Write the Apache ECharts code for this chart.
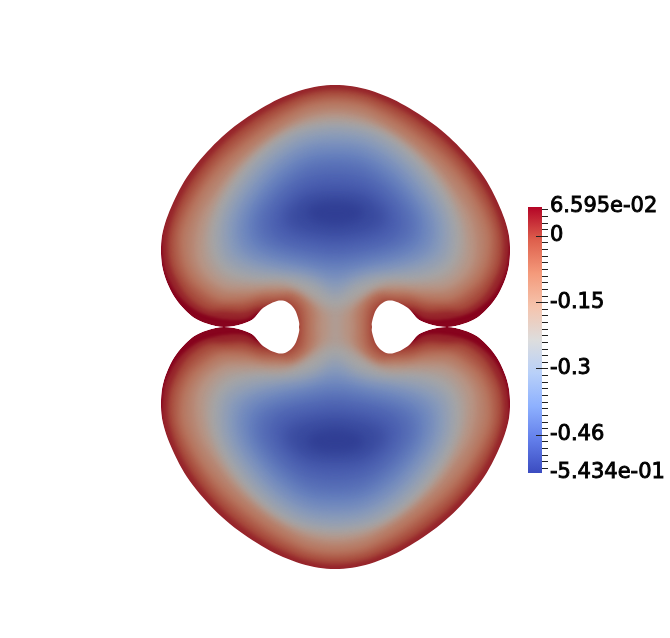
<!DOCTYPE html>
<html>
<head>
<meta charset="utf-8">
<style>html,body{margin:0;padding:0;background:#fff}#main{width:670px;height:638px}</style>
<script src="https://cdn.jsdelivr.net/npm/echarts@6/dist/echarts.min.js"></script>
</head>
<body>
<div id="main"></div>
<script>
// field values of the contours (outer edge first)
var levels = [0.066, 0.029, -0.010, -0.050, -0.086, -0.123, -0.163, -0.202, -0.239, -0.275, -0.315, -0.354, -0.391, -0.428, -0.467, -0.507, -0.531];
// upper-left quarter of each contour, in image units. the shape is mirrored around the axes
var contours = [
    [[335,85],[310,88],[283,97],[257,111],[230,130],[207,152],[187,177],[173,203],[164,227],[161,247],[163,270],[172,293],[185,310],[200,321],[224,327],[250,321],[263,308],[277,301],[287,302],[295,310],[299,322],[299,327]],
    [[335,82],[310,85],[283,94],[256,108],[229,127],[205,150],[185,175],[171,202],[163,227],[162,247],[165,270],[175,291],[188,305],[203,314],[224,319],[245,319],[258,312],[277,303],[288,304],[295,312],[298,322],[297,327]],
    [[335,90],[310,93],[285,102],[259,116],[233,135],[211,156],[192,180],[178,205],[170,228],[168,247],[171,267],[181,288],[192,301],[207,310],[224,311],[243,312],[256,308],[277,304],[287,305],[293,312],[296,322],[296,327]],
    [[335,95],[310,98],[287,107],[262,121],[236,140],[215,160],[197,183],[183,207],[175,229],[173,247],[176,266],[186,284],[198,297],[212,305],[226,306],[244,306],[259,302],[277,300],[288,300],[298,309],[301,320],[301,327]],
    [[335,100],[311,103],[289,112],[265,126],[240,145],[219,164],[202,186],[188,209],[180,230],[179,247],[182,264],[190,280],[203,292],[216,300],[229,302],[245,301],[260,297],[277,296],[291,296],[303,305],[306,317],[306,327]],
    [[335,105],[311,108],[291,117],[268,131],[244,149],[224,168],[206,189],[194,211],[186,232],[185,248],[188,263],[196,277],[207,288],[220,296],[232,297],[247,296],[262,292],[278,291.5],[293,291],[306,301],[312,315],[312,327]],
    [[335,112],[312,115],[293,123],[271,137],[249,154],[230,172],[214,193],[201,214],[195,234],[194,249],[196,262],[203,275],[213,284],[225,290],[236,291],[250,291],[265,289],[280,288.5],[296,288],[310,298],[318,313],[318,327]],
    [[335,117],[313,120],[296,128],[274,141],[254,158],[236,177],[220,197],[209,217],[204,235],[203,250],[205,262],[212,273],[221,281],[231,285],[242,285],[255,285],[270,284],[285,285],[300,290],[316,302],[328,316],[329,327]],
    [[335,122],[314,124],[292,130],[270,143],[250,160],[233,180],[221,200],[213,220],[210,237],[211,251],[215,262],[222,271],[232,277],[245,280],[260,281],[283,281],[300,288],[316,298],[335,308]],
    [[335,127],[314,129],[294,135],[274,147],[255,164],[240,183],[227,203],[220,222],[218,238],[219,250],[223,260],[232,268],[244,273],[260,276],[283,276],[300,280],[318,287],[335,298]],
    [[335,133],[315,135],[297,141],[278,153],[261,168],[246,186],[234,205],[227,222],[226,238],[228,250],[234,258],[246,264],[262,268],[283,271],[300,273],[318,279],[335,290]],
    [[335,141],[316,143],[300,148],[283,158],[267,172],[253,189],[241,207],[235,224],[235,238],[238,249],[246,256],[259,262],[283,267],[300,269],[318,274],[335,281]],
    [[335,150],[317,151],[303,156],[288,165],[273,178],[260,194],[249,211],[244,225],[244,238],[250,247],[262,254],[283,260],[300,263],[318,268],[335,272]],
    [[335,159],[319,160],[306,164],[293,172],[279,184],[266,198],[256,213],[253,226],[256,238],[265,246],[283,252],[300,256],[318,260],[335,262]],
    [[335,173],[321,174],[309,177],[297,184],[285,194],[275,206],[268,218],[268,229],[276,238],[290,244],[310,248],[322,250],[335,252]],
    [[335,190],[323,191],[311,193],[300,198],[291,206],[285,215],[287,224],[297,231],[312,235],[323,237],[335,238]],
    [[335,202],[327,202],[318,204],[311,207],[307,212],[310,218],[318,222],[327,224],[335,225]]
];
var ringBlur = [0, 3, 5, 6, 6, 7, 7, 8, 9, 10, 11, 12, 13, 14, 16, 14, 10];

// colour bar
var barMin = -0.5434;
var barMax = 0.06595;
var majorTicks = [0.06595, 0, -0.152, -0.304, -0.456, -0.5434];
var majorLabels = ['6.595e-02', '0', '-0.15', '-0.3', '-0.46', '-5.434e-01'];
var longTicks = [0, -0.152, -0.304, -0.456];
var shortTicks = [0.0608, 0.0456, 0.0304, 0.0152, -0.0152, -0.0304, -0.0456, -0.0608, -0.076, -0.0912, -0.1064, -0.1216, -0.1368,
    -0.1672, -0.1824, -0.1976, -0.2128, -0.228, -0.2432, -0.2584, -0.2736, -0.2888,
    -0.3192, -0.3344, -0.3496, -0.3648, -0.38, -0.3952, -0.4104, -0.4256, -0.4408,
    -0.4712, -0.4864, -0.5016, -0.5168, -0.532];
var coolWarm = ['#b40426', '#de604d', '#f49a7b', '#f5c4ad', '#dddddd', '#b8d0f9', '#8db0fe', '#627eea', '#3b4cc0'];
// same ramp from low to high, dimmed by the surface lighting
var litCoolWarm = ['#2c3990', '#4a5eb0', '#6a84bf', '#8a9cbb', '#a6a6a6', '#b89382', '#b7735c', '#a6483a', '#87031d'];

var cx = 335.5, cy = 327;
var OFFSCREEN = 3000;

function dedupe(points) {
    var out = [];
    points.forEach(function (p) {
        var last = out[out.length - 1];
        if (!last || Math.abs(last[0] - p[0]) > 1.5 || Math.abs(last[1] - p[1]) > 1.5) out.push(p);
    });
    var a = out[0], b = out[out.length - 1];
    if (Math.abs(a[0] - b[0]) <= 1.5 && Math.abs(a[1] - b[1]) <= 1.5) out.pop();
    return out;
}
function flipX(p) { return [2 * cx - p[0], p[1]]; }
function flipY(p) { return [p[0], 2 * cy - p[1]]; }
function ringPaths(q) {
    var rev = q.slice().reverse();
    if (q[q.length - 1][1] === cy) {
        // contour runs round both lobes through the neck
        return [dedupe(q.concat(rev.map(flipY), q.map(flipY).map(flipX), rev.map(flipX)))];
    }
    var upper = dedupe(q.concat(rev.map(flipX)));
    return [upper, upper.map(flipY)];
}
// round the corners of a closed contour, only for drawing
function curve(path) {
    var out = [], n = path.length, steps = 6;
    for (var i = 0; i < n; i++) {
        var p0 = path[(i - 1 + n) % n], p1 = path[i], p2 = path[(i + 1) % n], p3 = path[(i + 2) % n];
        for (var s = 0; s < steps; s++) {
            var t = s / steps, t2 = t * t, t3 = t2 * t;
            out.push([0, 1].map(function (k) {
                return 0.5 * (2 * p1[k] + (p2[k] - p0[k]) * t + (2 * p0[k] - 5 * p1[k] + 4 * p2[k] - p3[k]) * t2 + (3 * p1[k] - p0[k] - 3 * p2[k] + p3[k]) * t3);
            }));
        }
    }
    return out;
}

function renderRing(params, api) {
    var i = api.value(0);
    var color = api.visual('color');
    return {
        type: 'group',
        children: ringPaths(contours[i]).map(function (path) {
            var pts = curve(path).map(function (p) { return api.coord(p); });
            if (ringBlur[i] === 0) {
                return { type: 'polygon', shape: { points: pts }, style: { fill: color } };
            }
            // only the blurred shadow lands on the page, the shape itself sits off to the side
            return {
                type: 'polygon',
                x: -OFFSCREEN,
                shape: { points: pts },
                style: {
                    fill: color,
                    shadowBlur: ringBlur[i],
                    shadowColor: color,
                    shadowOffsetX: OFFSCREEN
                }
            };
        })
    };
}
// white sheet with the outline cut out, keeps the outer edge sharp
function renderMask(params, api) {
    var outline = curve(ringPaths(contours[0])[0]);
    var frame = [[cx, 70], [525, 70], [525, 585], [140, 585], [140, 70], [cx, 70]];
    var pts = frame.concat(outline, [outline[0]]).map(function (p) { return api.coord(p); });
    return { type: 'polygon', shape: { points: pts }, style: { fill: '#fff' } };
}
function renderBar(params, api) {
    var a = api.coord([0, barMax]);
    var b = api.coord([14, barMin]);
    return {
        type: 'rect',
        shape: { x: a[0], y: a[1], width: b[0] - a[0], height: b[1] - a[1] },
        style: {
            fill: new echarts.graphic.LinearGradient(0, 0, 0, 1, coolWarm.map(function (c, i) {
                return { offset: i / (coolWarm.length - 1), color: c };
            }))
        }
    };
}
function renderTick(params, api) {
    var a = api.coord([api.value(0), api.value(1)]);
    var b = api.coord([20, api.value(1)]);
    var y = Math.round(a[1]) + 0.5;
    return {
        type: 'line',
        shape: { x1: a[0], y1: y, x2: b[0], y2: y },
        style: { stroke: '#222', lineWidth: 1 }
    };
}

var chart = echarts.init(document.getElementById('main'), null, { renderer: 'canvas' });

chart.setOption({
    animation: false,
    backgroundColor: '#ffffff',
    grid: [
        { left: 0, right: 0, top: 0, bottom: 0 },
        { left: 528, width: 20, top: 207, height: 266 }
    ],
    xAxis: [
        { type: 'value', gridIndex: 0, min: 0, max: 670, show: false },
        { type: 'value', gridIndex: 1, min: 0, max: 20, show: false }
    ],
    yAxis: [
        { type: 'value', gridIndex: 0, min: 0, max: 638, inverse: true, show: false },
        {
            type: 'value', gridIndex: 1, min: barMin, max: barMax, position: 'right',
            axisLine: { show: false },
            axisTick: { show: false },
            splitLine: { show: false },
            axisLabel: {
                show: true, margin: 2,
                customValues: majorTicks,
                formatter: function (v) { return majorLabels[majorTicks.indexOf(v)]; },
                fontFamily: 'DejaVu Sans', fontSize: 21, color: '#000',
                textBorderColor: '#000', textBorderWidth: 0.9
            }
        }
    ],
    visualMap: [
        {
            type: 'continuous', show: false, seriesIndex: 0, dimension: 1,
            min: barMin, max: barMax,
            inRange: { color: litCoolWarm }
        }
    ],
    series: [
        {
            type: 'custom', xAxisIndex: 0, yAxisIndex: 0,
            clip: false, silent: true,
            renderItem: renderRing,
            encode: { x: 0, y: 1 },
            data: levels.map(function (v, i) { return [i, v]; })
        },
        {
            type: 'custom', xAxisIndex: 0, yAxisIndex: 0,
            clip: false, silent: true,
            renderItem: renderMask,
            data: [[0, 0]]
        },
        {
            type: 'custom', xAxisIndex: 1, yAxisIndex: 1,
            clip: false, silent: true,
            renderItem: renderBar,
            data: [[0, barMax]]
        },
        {
            type: 'custom', xAxisIndex: 1, yAxisIndex: 1,
            clip: false, silent: true,
            renderItem: renderTick,
            encode: { x: 0, y: 1 },
            data: longTicks.map(function (v) { return [8, v]; }).concat(shortTicks.map(function (v) { return [14, v]; }))
        }
    ]
});
</script>
</body>
</html>
